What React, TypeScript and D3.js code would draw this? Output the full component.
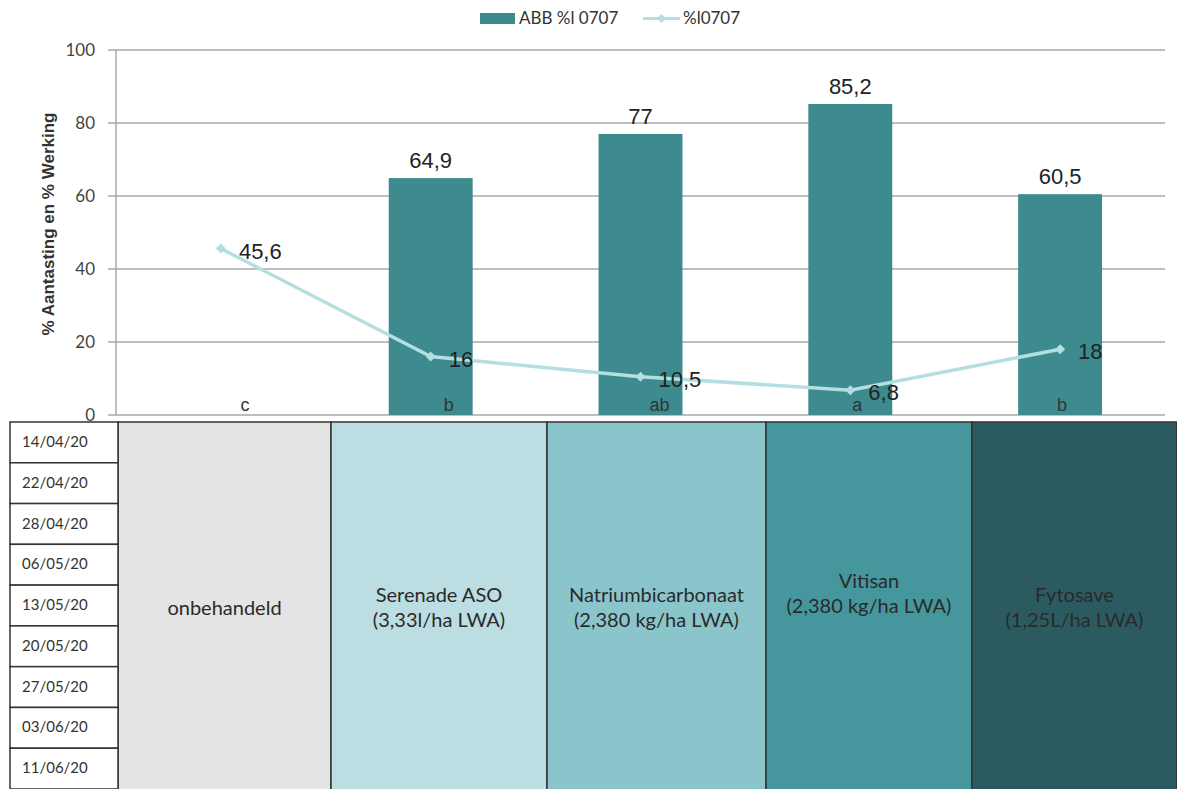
import React from "react";
import * as d3 from "d3";

const treatments = ["onbehandeld", "Serenade ASO", "Natriumbicarbonaat", "Vitisan", "Fytosave"];
const treatmentDoses = ["", "(3,33l/ha LWA)", "(2,380 kg/ha LWA)", "(2,380 kg/ha LWA)", "(1,25L/ha  LWA)"];
const werking: (number | null)[] = [null, 64.9, 77, 85.2, 60.5];
const aantasting = [45.6, 16, 10.5, 6.8, 18];
const significance = ["c", "b", "ab", "a", "b"];
const sprayDates = ["14/04/20", "22/04/20", "28/04/20", "06/05/20", "13/05/20", "20/05/20", "27/05/20", "03/06/20", "11/06/20"];
const yTicks = [0, 20, 40, 60, 80, 100];
const columnFills = ["#e4e4e4", "#bcdde1", "#8bc5cc", "#45969d", "#2b5b61"];
const columnEdges = [118, 331, 547, 766, 972, 1177];
const letterShift = [24, 18, 19, 7, 2];

const W = 1177;
const H = 789;
const plot = { left: 116, right: 1165, top: 50, bottom: 415 };
const fmt = (v: number) => String(v).replace(".", ",");

export default function App() {
  const x = d3
    .scaleBand<string>()
    .domain(treatments)
    .range([plot.left, plot.right])
    .paddingInner(0.6)
    .paddingOuter(0.3);
  const xc = (t: string) => (x(t) ?? 0) + x.bandwidth() / 2;
  const y = d3.scaleLinear().domain([0, 100]).range([plot.bottom, plot.top]);

  const lineGen = d3
    .line<number>()
    .x((_, i) => xc(treatments[i]))
    .y((d) => y(d));

  const tableTop = 422;
  const rowH = (H - tableTop) / sprayDates.length;
  const rows = d3.range(sprayDates.length + 1).map((i) => tableTop + i * rowH);
  const sans = "'Liberation Sans', Arial, sans-serif";
  const lato = "Lato, 'Open Sans', sans-serif";

  return (
    <svg
      width={W}
      height={H}
      style={{ position: "absolute", left: 0, top: 0, background: "#fff" }}
    >
      {/* legend */}
      <g fontFamily={lato} fontSize={17} fill="#333">
        <rect x={480} y={13} width={35} height={11} fill="#3d8a8f" />
        <text x={519} y={24}>ABB %l 0707</text>
        <line x1={643} x2={680} y1={18.5} y2={18.5} stroke="#b4dfe0" strokeWidth={3} />
        <path d="M661.5,14 L666,18.5 L661.5,23 L657,18.5 Z" fill="#b4dfe0" />
        <text x={683} y={24}>%l0707</text>
      </g>

      {/* gridlines and y axis */}
      {yTicks.map((t) => (
        <g key={t}>
          <line x1={plot.left} x2={plot.right} y1={y(t)} y2={y(t)} stroke="#a9a9a9" strokeWidth={1.5} />
          <line x1={108} x2={plot.left} y1={y(t)} y2={y(t)} stroke="#a9a9a9" strokeWidth={1.5} />
          <text x={95} y={y(t) + 6} textAnchor="end" fontFamily={lato} fontSize={17} fill="#444">
            {t}
          </text>
        </g>
      ))}
      <line x1={plot.left} x2={plot.left} y1={plot.top} y2={plot.bottom} stroke="#a9a9a9" strokeWidth={1.5} />
      <text
        transform={`translate(54,224) rotate(-90)`}
        textAnchor="middle"
        fontFamily={sans}
        fontWeight="bold"
        fontSize={17}
        fill="#333"
      >
        % Aantasting en % Werking
      </text>

      {/* bars */}
      {treatments.map((t, i) => {
        const v = werking[i];
        if (v == null) return null;
        return (
          <g key={t}>
            <rect x={x(t)} y={y(v)} width={x.bandwidth()} height={y(0) - y(v)} fill="#3d8a8f" />
            <text x={xc(t)} y={y(v) - 10} textAnchor="middle" fontFamily={sans} fontSize={22} fill="#222">
              {fmt(v)}
            </text>
          </g>
        );
      })}

      {/* significance letters */}
      {treatments.map((t, i) => (
        <text
          key={t}
          x={xc(t) + letterShift[i]}
          y={411}
          textAnchor="middle"
          fontFamily={sans}
          fontSize={18}
          fill="#333"
        >
          {significance[i]}
        </text>
      ))}

      {/* infection line */}
      <path d={lineGen(aantasting) ?? ""} fill="none" stroke="#b4dfe0" strokeWidth={3.5} />
      {aantasting.map((v, i) => {
        const cx = xc(treatments[i]);
        const cy = y(v);
        return (
          <g key={i}>
            <path d={`M${cx},${cy - 5} L${cx + 5},${cy} L${cx},${cy + 5} L${cx - 5},${cy} Z`} fill="#b4dfe0" />
            <text x={cx + 18} y={cy + 10} fontFamily={sans} fontSize={22} fill="#222">
              {fmt(v)}
            </text>
          </g>
        );
      })}

      {/* spray schedule table */}
      {treatments.map((t, i) => {
        const x0 = columnEdges[i];
        const x1 = columnEdges[i + 1];
        const mid = (x0 + x1) / 2;
        const centerY = tableTop + (H - tableTop) / 2;
        const dose = treatmentDoses[i];
        const topLineY = i === 3 ? centerY - 18 : dose ? centerY - 4 : centerY + 9;
        return (
          <g key={t}>
            <rect x={x0} y={tableTop} width={x1 - x0} height={H - tableTop + 2} fill={columnFills[i]} stroke="#333" strokeWidth={1.5} />
            <text x={mid} y={topLineY} textAnchor="middle" fontFamily={lato} fontSize={20} fill="#2a2a2a">
              {t}
            </text>
            {dose && (
              <text x={mid} y={topLineY + 25} textAnchor="middle" fontFamily={lato} fontSize={20} fill="#2a2a2a">
                {dose}
              </text>
            )}
          </g>
        );
      })}
      {sprayDates.map((d, i) => (
        <g key={d}>
          <rect x={10} y={rows[i]} width={108} height={rowH} fill="#fff" stroke="#333" strokeWidth={1.5} />
          <text x={22} y={rows[i] + 25} fontFamily={lato} fontSize={15} fill="#333">
            {d}
          </text>
        </g>
      ))}
    </svg>
  );
}
